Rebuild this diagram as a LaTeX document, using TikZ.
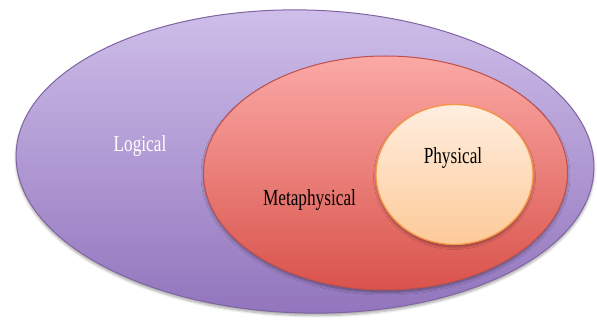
\documentclass[tikz,border=0pt]{standalone}
\usepackage{fontspec}
\setmainfont{Liberation Serif}
\usetikzlibrary{shapes.geometric,shadows.blur}
\definecolor{lgTop}{HTML}{CFBFEA}
\definecolor{lgBot}{HTML}{9275BD}
\definecolor{lgLine}{HTML}{8064A2}
\definecolor{mpTop}{HTML}{FBA9A6}
\definecolor{mpBot}{HTML}{D9534B}
\definecolor{mpLine}{HTML}{C0504D}
\definecolor{phTop}{HTML}{FFEEE0}
\definecolor{phBot}{HTML}{FDCA98}
\definecolor{phLine}{HTML}{F79646}
\tikzset{
  setbox/.style={ellipse, inner sep=0pt, line width=1pt,
    blur shadow={shadow xshift=0pt, shadow yshift=-2.5pt, shadow blur steps=6, shadow opacity=35, shadow blur radius=2.5pt}},
  lbl/.style={inner sep=0pt, anchor=base, font=\fontsize{23}{27}\selectfont}
}
\newcommand{\sq}[1]{\scalebox{0.75}[1]{#1}}
\begin{document}
\begin{tikzpicture}[x=1pt,y=-1pt]
\useasboundingbox (0,0) rectangle (597,320);
\node[setbox, draw=lgLine, top color=lgTop, bottom color=lgBot,
  minimum width=578pt, minimum height=303pt, rotate=-1.5] (logical) at (305,161.5) {};
\node[setbox, draw=mpLine, top color=mpTop, bottom color=mpBot,
  minimum width=364pt, minimum height=234pt] (meta) at (385.5,173) {};
\node[setbox, draw=phLine, line width=1.3pt, top color=phTop, bottom color=phBot,
  minimum width=157pt, minimum height=140pt] (phys) at (454.5,174.5) {};
\node[lbl, text=white] (tlog) at (140,152) {\sq{Logical}};
\node[lbl, text=black] (tmeta) at (309.5,206) {\sq{Metaphysical}};
\node[lbl, text=black] (tphys) at (453,163.5) {\sq{Physical}};
\end{tikzpicture}
\end{document}
